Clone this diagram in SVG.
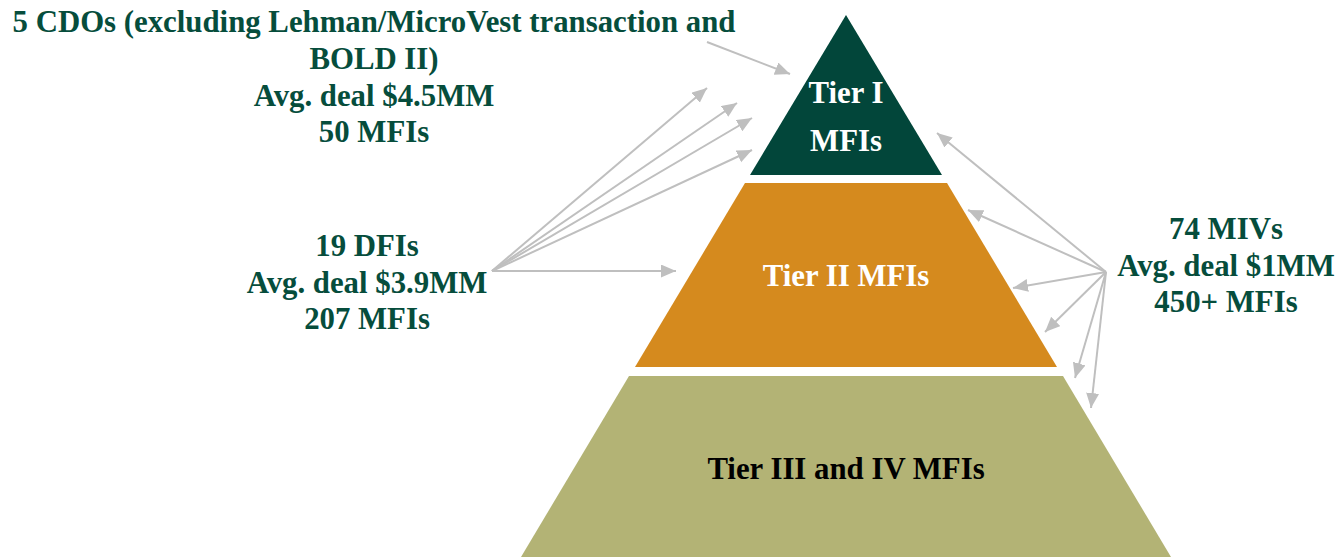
<svg xmlns="http://www.w3.org/2000/svg" width="1339" height="557" viewBox="0 0 1339 557">
<style>
.lbl{font-family:"Liberation Serif","Times New Roman",serif;font-weight:bold;font-size:30.8px;text-anchor:middle;fill:#064D3C}
.tier{font-family:"Liberation Serif","Times New Roman",serif;font-weight:bold;font-size:30.8px;text-anchor:middle;fill:#ffffff}
.conn{stroke:#BFBFBF;stroke-width:2;fill:none;marker-end:url(#ah)}
</style>
<defs>
<marker id="ah" markerUnits="userSpaceOnUse" markerWidth="16" markerHeight="14" refX="15" refY="6.5" orient="auto">
<path d="M0,0 L15,6.5 L0,13 z" fill="#BFBFBF"/>
</marker>
</defs>
<rect width="1339" height="557" fill="#ffffff"/>
<g id="tier1">
<polygon points="846,15 942,175 750,175" fill="#02463A"/>
<text class="tier" x="846" y="103">Tier I</text>
<text class="tier" x="846" y="151">MFIs</text>
</g>
<g id="tier2">
<polygon points="745,183 947,183 1057,367 635,367" fill="#D58A1E"/>
<text class="tier" x="846" y="286">Tier II MFIs</text>
</g>
<g id="tier3">
<polygon points="629,376 1063,376 1171,557 521,557" fill="#B3B375"/>
<text class="tier" x="846" y="479" style="fill:#000000">Tier III and IV MFIs</text>
</g>
<g id="cdo">
<text class="lbl" x="374" y="32">5 CDOs (excluding Lehman/MicroVest transaction and</text>
<text class="lbl" x="374" y="69">BOLD II)</text>
<text class="lbl" x="374" y="106">Avg. deal $4.5MM</text>
<text class="lbl" x="374" y="142">50 MFIs</text>
</g>
<g id="dfi">
<text class="lbl" x="367" y="256">19 DFIs</text>
<text class="lbl" x="367" y="293">Avg. deal $3.9MM</text>
<text class="lbl" x="367" y="329">207 MFIs</text>
</g>
<g id="miv">
<text class="lbl" x="1226" y="239">74 MIVs</text>
<text class="lbl" x="1226" y="276">Avg. deal $1MM</text>
<text class="lbl" x="1226" y="312">450+ MFIs</text>
</g>
<g id="connectors">
<line class="conn" x1="707" y1="42" x2="790" y2="74"/>
<line class="conn" x1="492" y1="271" x2="676" y2="271"/>
<line class="conn" x1="492" y1="271" x2="707" y2="88"/>
<line class="conn" x1="492" y1="271" x2="737" y2="103"/>
<line class="conn" x1="492" y1="271" x2="752" y2="118"/>
<line class="conn" x1="492" y1="271" x2="752" y2="150"/>
<line class="conn" x1="1106" y1="272" x2="937" y2="133"/>
<line class="conn" x1="1106" y1="272" x2="968" y2="210"/>
<line class="conn" x1="1106" y1="272" x2="1013" y2="288"/>
<line class="conn" x1="1106" y1="272" x2="1045" y2="332"/>
<line class="conn" x1="1106" y1="272" x2="1075" y2="378"/>
<line class="conn" x1="1106" y1="272" x2="1091" y2="408"/>
</g>
</svg>
